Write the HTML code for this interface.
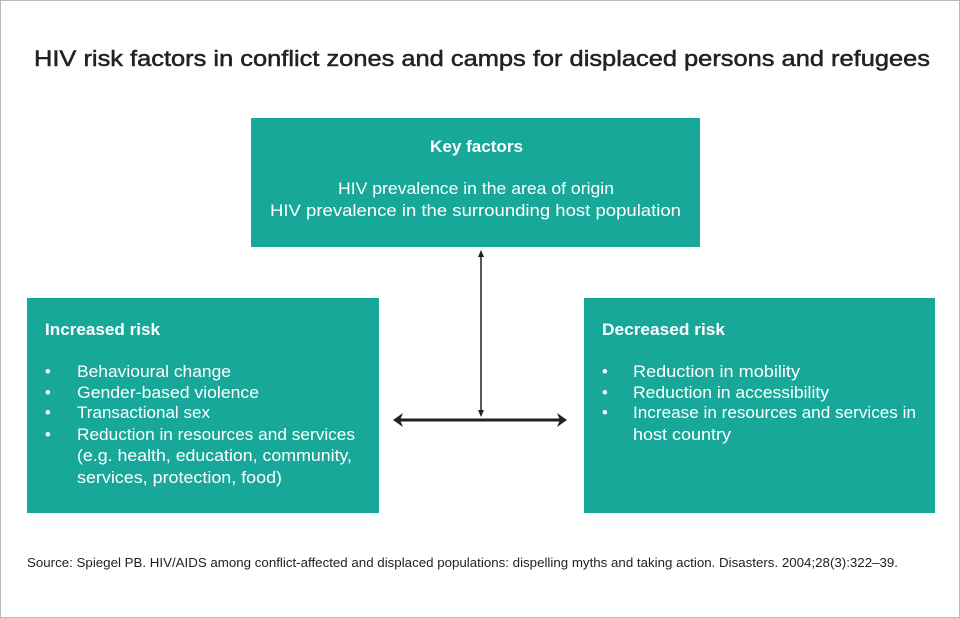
<!DOCTYPE html>
<html><head><meta charset="utf-8"><style>body{margin:0}svg{display:block}</style></head><body>
<svg width="960" height="618" viewBox="0 0 960 618" xmlns="http://www.w3.org/2000/svg" font-family="Liberation Sans, sans-serif">
<rect x="0.5" y="0.5" width="959" height="617" fill="#fff" stroke="#bbb"/>
<text x="34" y="66" font-size="22" fill="#222" stroke="#222" stroke-width="0.5" textLength="896" lengthAdjust="spacingAndGlyphs">HIV risk factors in conflict zones and camps for displaced persons and refugees</text>
<g fill="#17a89a">
<rect x="251" y="118" width="449" height="129"/>
<rect x="27" y="298" width="352" height="215"/>
<rect x="584" y="298" width="351" height="215"/>
</g>
<g fill="#fff" font-size="16.5" lengthAdjust="spacingAndGlyphs">
<text x="430" y="152" font-weight="bold" textLength="93" lengthAdjust="spacingAndGlyphs">Key factors</text>
<text x="338" y="194" textLength="276" lengthAdjust="spacingAndGlyphs">HIV prevalence in the area of origin</text>
<text x="270" y="216" textLength="411" lengthAdjust="spacingAndGlyphs">HIV prevalence in the surrounding host population</text>
<text x="45" y="335" font-weight="bold" textLength="115" lengthAdjust="spacingAndGlyphs">Increased risk</text>
<text x="45" y="377">•</text><text x="77" y="377" textLength="154" lengthAdjust="spacingAndGlyphs">Behavioural change</text>
<text x="45" y="398">•</text><text x="77" y="398" textLength="182" lengthAdjust="spacingAndGlyphs">Gender-based violence</text>
<text x="45" y="418">•</text><text x="77" y="418" textLength="133" lengthAdjust="spacingAndGlyphs">Transactional sex</text>
<text x="45" y="440">•</text><text x="77" y="440" textLength="278" lengthAdjust="spacingAndGlyphs">Reduction in resources and services</text>
<text x="77" y="461" textLength="275" lengthAdjust="spacingAndGlyphs">(e.g. health, education, community,</text>
<text x="77" y="483" textLength="205" lengthAdjust="spacingAndGlyphs">services, protection, food)</text>
<text x="602" y="335" font-weight="bold" textLength="123" lengthAdjust="spacingAndGlyphs">Decreased risk</text>
<text x="602" y="377">•</text><text x="633" y="377" textLength="167" lengthAdjust="spacingAndGlyphs">Reduction in mobility</text>
<text x="602" y="398">•</text><text x="633" y="398" textLength="196" lengthAdjust="spacingAndGlyphs">Reduction in accessibility</text>
<text x="602" y="418">•</text><text x="633" y="418" textLength="283" lengthAdjust="spacingAndGlyphs">Increase in resources and services in</text>
<text x="633" y="440" textLength="98" lengthAdjust="spacingAndGlyphs">host country</text>
</g>
<g stroke="#222" fill="#222">
<line x1="481" y1="254" x2="481" y2="413" stroke-width="1.5"/>
<polygon points="481,250 478,257 484,257" stroke="none"/>
<polygon points="481,417 478,410 484,410" stroke="none"/>
<line x1="400" y1="420" x2="560" y2="420" stroke-width="3"/>
<polygon points="393,420 403,413 400,420 403,427" stroke="none"/>
<polygon points="567,420 557,413 560,420 557,427" stroke="none"/>
</g>
<text x="27" y="567" font-size="13" fill="#222" textLength="871" lengthAdjust="spacingAndGlyphs">Source: Spiegel PB. HIV/AIDS among conflict-affected and displaced populations: dispelling myths and taking action. Disasters. 2004;28(3):322–39.</text>
</svg>
</body></html>
